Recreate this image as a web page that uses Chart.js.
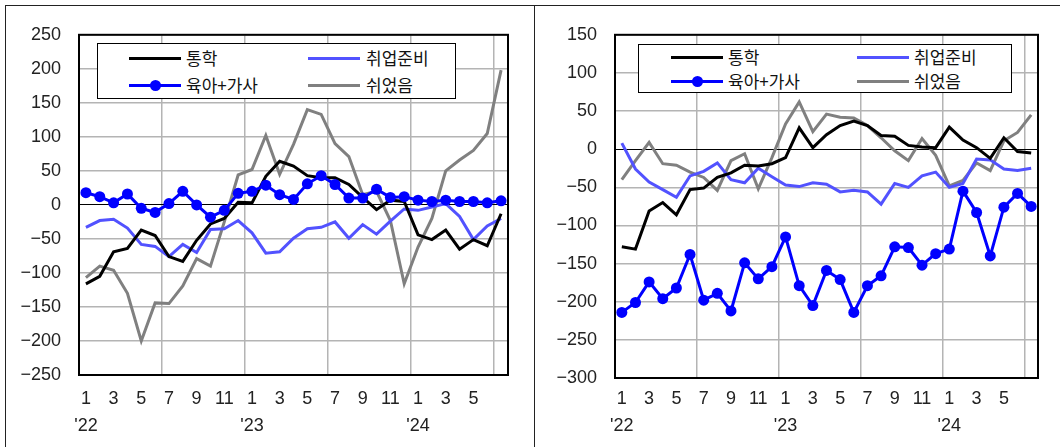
<!DOCTYPE html>
<html>
<head>
<meta charset="utf-8">
<script src="https://cdn.jsdelivr.net/npm/chart.js@4.4.1/dist/chart.umd.min.js"></script>
<style>
  body { margin: 0; background: #fff; width: 1060px; height: 447px; overflow: hidden; position: relative;
         font-family: "Noto Sans CJK KR", "Noto Sans", sans-serif; }
  .frame   { position: absolute; left: 5px; top: 5px; right: 0; bottom: 0;
             border-top: 1px solid #222; border-left: 1px solid #222; }
  .divider { position: absolute; left: 534px; top: 5px; bottom: 0; border-left: 1px solid #222; }
  .panel   { position: absolute; top: 6px; height: 441px; }
  .legend  { position: absolute; background: #fff; border: 1.5px solid #000; box-sizing: border-box; }
  .lg-line { position: absolute; height: 3px; }
  .lg-dot  { position: absolute; width: 11px; height: 11px; border-radius: 50%; }
  .lg-text { position: absolute; font-size: 17px; line-height: 20px; color: #111; white-space: nowrap; }
</style>
</head>
<body>
<div class="frame"></div>
<div class="divider"></div>

<div class="panel" style="left:6px;width:528px">
  <canvas id="chart-left" width="528" height="441"></canvas>
</div>
<div class="panel" style="left:535px;width:525px">
  <canvas id="chart-right" width="525" height="441"></canvas>
</div>

<div class="legend" id="legend-left"  style="left:97px;top:43px;width:359px;height:56px"></div>
<div class="legend" id="legend-right" style="left:638px;top:44px;width:374px;height:49px"></div>

<script>
// Monthly change vs. a year earlier (thousand persons), Jan 2022 – Jul 2024
var MONTH_LABELS = ["1","2","3","4","5","6","7","8","9","10","11","12",
                    "1","2","3","4","5","6","7","8","9","10","11","12",
                    "1","2","3","4","5","6","7"];
var YEAR_LABELS  = ["'22", "'23", "'24"];

var SERIES_NAMES = ["통학", "취업준비", "육아+가사", "쉬었음"];

// left panel
var L_COMMUTE = [-116,-105,-69,-64,-37,-45,-76,-83,-52,-28,-20,4,3,42,64,57,43,40,40,30,11,-7,7,5,-44,-51,-37,-65,-51,-60,-13];
var L_JOBPREP = [-33,-23,-21,-34,-58,-61,-76,-58,-70,-36,-35,-23,-41,-71,-69,-49,-35,-33,-25,-49,-29,-43,-24,-6,-8,-3,2,-17,-51,-31,-20];
var L_CARE    = [18,12,3,16,-5,-11,2,20,0,-18,-8,17,20,29,15,8,31,43,30,10,10,23,11,12,7,5,7,5,5,3,6];
var L_REST    = [-107,-90,-96,-130,-200,-144,-145,-119,-79,-90,-25,44,52,102,45,89,140,133,90,71,15,20,-23,-116,-62,-20,50,66,80,105,198];
var L_Y_RANGE = [-250, 250];

// right panel
var R_COMMUTE = [-128,-131,-81,-70,-86,-53,-51,-37,-31,-21,-22,-19,-11,28,2,19,31,37,31,18,17,5,3,2,29,12,2,-12,15,-3,-5];
var R_JOBPREP = [8,-26,-43,-53,-63,-35,-29,-18,-40,-44,-25,-36,-47,-49,-44,-46,-56,-54,-56,-72,-45,-50,-35,-30,-50,-45,-13,-14,-26,-28,-25];
var R_CARE    = [-214,-201,-174,-196,-182,-138,-198,-189,-212,-149,-170,-154,-115,-179,-205,-159,-171,-214,-179,-166,-128,-129,-152,-137,-131,-55,-83,-140,-76,-58,-75];
var R_REST    = [-40,-15,9,-19,-21,-30,-37,-54,-15,-6,-52,-11,33,62,23,46,42,41,31,15,-2,-15,14,-8,-48,-41,-18,-28,11,22,45];
var R_Y_RANGE = [-300, 150];

var COLORS = ["#000000", "#5252ff", "#0000ff", "#808080"];
var GRID   = "#b4b4b4";

function _datasets(values) {
  return values.map(function(vals, i) {
    var dots = (i === 2);
    return {
      label:           SERIES_NAMES[i],
      data:            vals,
      borderColor:     COLORS[i],
      backgroundColor: COLORS[i],
      borderWidth:     3,
      tension:         0,
      pointRadius:     dots ? 5.5 : 0,
      pointBorderWidth: 0,
      pointBackgroundColor: COLORS[i],
      order:           dots ? 0 : i + 1,
    };
  });
}

var plotFrame = {
  id: "plotFrame",
  afterDraw: function(chart) {
    var a = chart.chartArea, ctx = chart.ctx;
    ctx.save();
    ctx.strokeStyle = "#000";
    ctx.lineWidth = 2;
    ctx.strokeRect(a.left, a.top, a.right - a.left, a.bottom - a.top);
    ctx.restore();
  }
};

function makeChart(canvasId, values, yRange, lay) {
  return new Chart(document.getElementById(canvasId), {
    type: "line",
    data: { labels: MONTH_LABELS, datasets: _datasets(values) },
    options: {
      responsive: false,
      animation: false,
      devicePixelRatio: 1,
      layout: { padding: { top: lay.top, right: lay.right, left: 0, bottom: 0 } },
      plugins: { legend: { display: false }, tooltip: { enabled: false } },
      scales: {
        x: {
          offset: true,
          grid: {
            offset: true,
            drawTicks: false,
            lineWidth: 1.5,
            color: function(c) { return (c.index > 0 && c.index % 6 === 0) ? GRID : "rgba(0,0,0,0)"; },
          },
          border: { display: false },
          afterFit: function(s) { s.height = lay.xHeight; },
          ticks: {
            autoSkip: false,
            maxRotation: 0,
            padding: lay.xPad,
            color: "#222",
            font: { family: "'Liberation Sans', Arial, sans-serif", size: 18, lineHeight: 1.5 },
            callback: function(v, i) {
              var m = MONTH_LABELS[i];
              if (Number(m) % 2 === 0 || i === MONTH_LABELS.length - 1) return "";
              if (m === "1") return [m, YEAR_LABELS[Math.floor(i / 12)]];
              return m;
            },
          },
        },
        y: {
          min: yRange[0],
          max: yRange[1],
          grid: {
            drawTicks: false,
            lineWidth: function(c) { return c.tick && c.tick.value === 0 ? 1 : 1.5; },
            color: function(c) { return c.tick && c.tick.value === 0 ? "#000" : GRID; },
          },
          border: { display: false },
          afterFit: function(s) { s.width = lay.yWidth; },
          ticks: {
            stepSize: 50,
            padding: 18,
            color: "#222",
            font: { family: "'Liberation Sans', Arial, sans-serif", size: 18 },
            callback: function(v) { return v < 0 ? "\u2212" + Math.abs(v) : String(v); },
          },
        },
      },
    },
    plugins: [plotFrame],
  });
}

function buildLegend(elId, chart, pos) {
  var box = document.getElementById(elId);
  var html = "";
  chart.data.datasets.forEach(function(ds, i) {
    var col = i % 2, row = Math.floor(i / 2);
    var lx = pos.lineX[col], cy = pos.rowY[row];
    html += '<div class="lg-line" style="left:' + lx + 'px;top:' + (cy - 1.5) + 'px;width:' + pos.lineW +
            'px;background:' + ds.borderColor + '"></div>';
    if (ds.pointRadius > 0) {
      html += '<div class="lg-dot" style="left:' + (lx + pos.lineW / 2 - 5.5) + 'px;top:' + (cy - 5.5) +
              'px;background:' + ds.borderColor + '"></div>';
    }
    html += '<div class="lg-text" style="left:' + pos.textX[col] + 'px;top:' + (cy - 10) + 'px">' + ds.label + '</div>';
  });
  box.innerHTML = html;
}

var leftChart = makeChart("chart-left", [L_COMMUTE, L_JOBPREP, L_CARE, L_REST], L_Y_RANGE,
  { top: 28, right: 26, yWidth: 73, xHeight: 72, xPad: 11 });
var rightChart = makeChart("chart-right", [R_COMMUTE, R_JOBPREP, R_CARE, R_REST], R_Y_RANGE,
  { top: 28, right: 22, yWidth: 80, xHeight: 69, xPad: 8 });

buildLegend("legend-left", leftChart,
  { lineX: [31, 210], lineW: 52, textX: [88, 268], rowY: [14, 41] });
buildLegend("legend-right", rightChart,
  { lineX: [32, 218], lineW: 52, textX: [89, 275], rowY: [12, 36] });
</script>
</body>
</html>
